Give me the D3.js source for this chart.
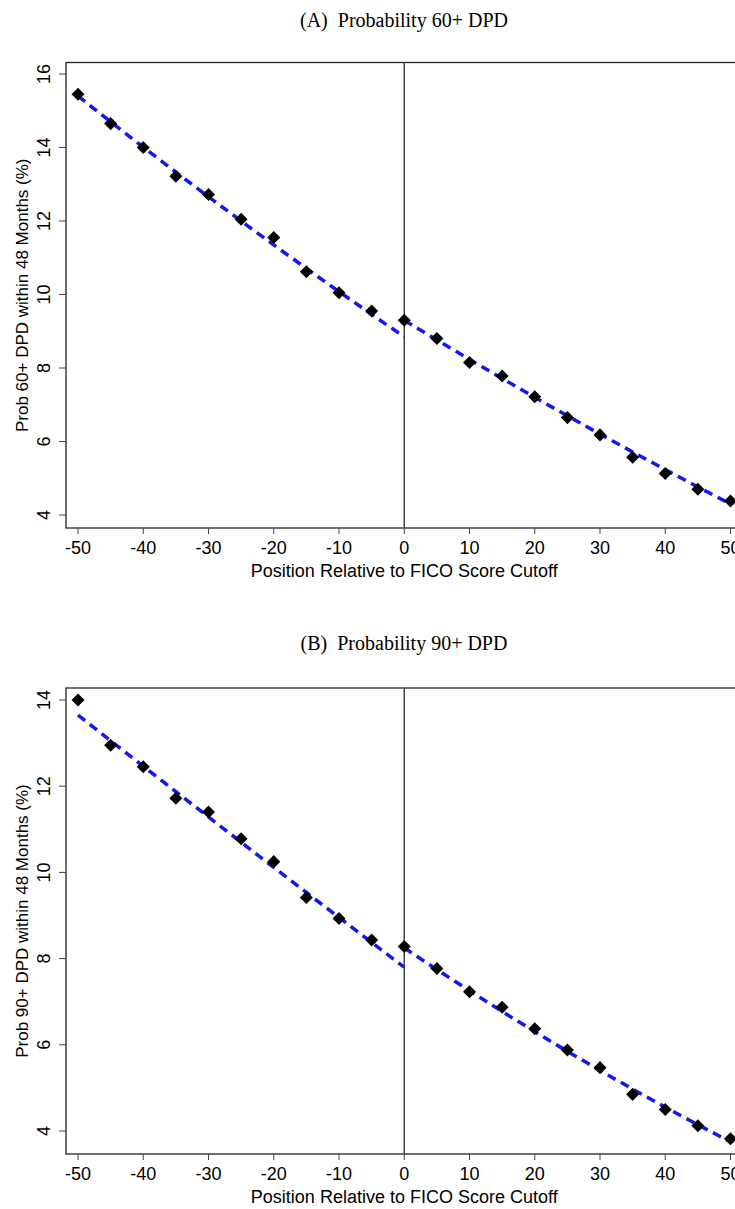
<!DOCTYPE html>
<html><head><meta charset="utf-8">
<script src="https://cdn.jsdelivr.net/npm/d3@7"></script>
<style>body{margin:0;background:#fff}</style></head>
<body><svg id="c" width="735" height="1209"></svg>
<script>
const xs = [-50,-45,-40,-35,-30,-25,-20,-15,-10,-5,0,5,10,15,20,25,30,35,40,45,50];
const valsA = [15.45,14.65,14.0,13.22,12.72,12.05,11.55,10.62,10.05,9.55,9.3,8.8,8.15,7.78,7.22,6.65,6.18,5.57,5.13,4.7,4.38];
const valsB = [14.0,12.95,12.45,11.72,11.4,10.78,10.25,9.42,8.93,8.43,8.28,7.77,7.23,6.87,6.37,5.88,5.47,4.85,4.5,4.12,3.82];
const fitX_L = [-50,-25,0], fitX_R = [0,25,50];
const fitA_L = [15.4,12.0,8.85], fitA_R = [9.3,6.7,4.3];
const fitB_L = [13.65,10.7,7.8], fitB_R = [8.25,5.85,3.75];
const xTicks = [-50,-40,-30,-20,-10,0,10,20,30,40,50];
const yTicksA = [4,6,8,10,12,14,16], yTicksB = [4,6,8,10,12,14];
const titles = ["(A)  Probability 60+ DPD","(B)  Probability 90+ DPD"];
const ylabels = ["Prob 60+ DPD within 48 Months (%)","Prob 90+ DPD within 48 Months (%)"];

const svg = d3.select("#c");
const SANS="'Liberation Sans',Arial,sans-serif";
function quad(xv, yv){
  const [x0,x1,x2]=xv,[y0,y1,y2]=yv;
  return x=>y0*(x-x1)*(x-x2)/((x0-x1)*(x0-x2))+y1*(x-x0)*(x-x2)/((x1-x0)*(x1-x2))+y2*(x-x0)*(x-x1)/((x2-x0)*(x2-x1));
}
function panel(cfg){
  const g = svg.append("g");
  const L=66;
  const x = d3.scaleLinear().domain([-50,50]).range([78,730.5]);
  const y = d3.scaleLinear().domain(cfg.ydom).range(cfg.yrange);
  g.append("text").attr("x",404).attr("y",cfg.titleY).attr("text-anchor","middle")
   .attr("font-family","'Liberation Serif','DejaVu Serif',serif").attr("font-size",20).attr("xml:space","preserve").text(cfg.title);
  g.append("rect").attr("x",L).attr("y",cfg.top).attr("width",735-L+5).attr("height",cfg.bottom-cfg.top)
   .attr("fill","none").attr("stroke","#222").attr("stroke-width",1.3);
  g.append("line").attr("x1",x(0)).attr("x2",x(0)).attr("y1",cfg.top).attr("y2",cfg.bottom).attr("stroke","#444").attr("stroke-width",1.5);
  xTicks.forEach(t=>{
    g.append("line").attr("x1",x(t)).attr("x2",x(t)).attr("y1",cfg.bottom).attr("y2",cfg.bottom+6).attr("stroke","#444");
    g.append("text").attr("x",x(t)).attr("y",cfg.bottom+26).attr("text-anchor","middle")
     .attr("font-family",SANS).attr("font-size",18).text(t);
  });
  cfg.yt.forEach(t=>{
    g.append("line").attr("x1",L-7).attr("x2",L).attr("y1",y(t)).attr("y2",y(t)).attr("stroke","#444");
    g.append("text").attr("transform",`translate(50,${y(t)}) rotate(-90)`).attr("text-anchor","middle")
     .attr("font-family",SANS).attr("font-size",18).text(t);
  });
  g.append("text").attr("x",x(0)).attr("y",cfg.bottom+49).attr("text-anchor","middle")
   .attr("font-family",SANS).attr("font-size",18).text("Position Relative to FICO Score Cutoff");
  g.append("text").attr("transform",`translate(28,${(cfg.top+cfg.bottom)/2}) rotate(-90)`).attr("text-anchor","middle")
   .attr("font-family",SANS).attr("font-size",17).text(cfg.ylab);
  const line = d3.line().x(d=>x(d[0])).y(d=>y(d[1]));
  [[fitX_L,cfg.fL],[fitX_R,cfg.fR]].forEach(([fx,fy])=>{
    const f=quad(fx,fy); const pts=d3.range(fx[0],fx[2]+0.01,1).map(v=>[v,f(v)]);
    g.append("path").attr("d",line(pts)).attr("fill","none").attr("stroke","#1515f0").attr("stroke-width",3.5).attr("stroke-dasharray","9,6");
  });
  const sym=d3.symbol().type(d3.symbolSquare).size(85);
  xs.forEach((v,i)=>g.append("path").attr("d",sym()).attr("transform",`translate(${x(v)},${y(cfg.vals[i])}) rotate(45)`).attr("fill","#000"));
}
panel({title:titles[0],titleY:27,ydom:[4,16],yrange:[515,74],top:62.5,bottom:528,yt:yTicksA,ylab:ylabels[0],vals:valsA,fL:fitA_L,fR:fitA_R});
panel({title:titles[1],titleY:650,ydom:[4,14],yrange:[1131,700],top:688,bottom:1154,yt:yTicksB,ylab:ylabels[1],vals:valsB,fL:fitB_L,fR:fitB_R});
</script></body></html>
